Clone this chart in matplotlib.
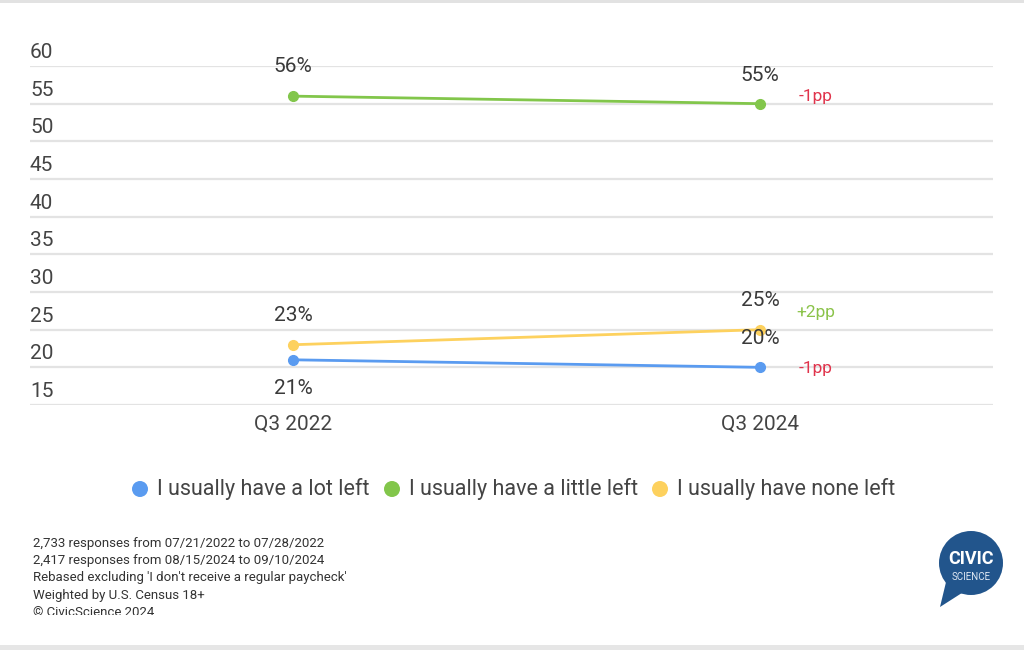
import matplotlib
matplotlib.use("Agg")
import matplotlib.pyplot as plt
from matplotlib.patches import Circle, Polygon, Rectangle
from matplotlib.transforms import Bbox, blended_transform_factory, offset_copy

plt.rcParams['font.family'] = ['Roboto', 'DejaVu Sans']

# ---- data ----
periods = ["Q3 2022", "Q3 2024"]
series_names = ["I usually have a lot left", "I usually have a little left", "I usually have none left"]
lot_left = [21, 20]
little_left = [56, 55]
none_left = [23, 25]
changes = ["-1pp", "-1pp", "+2pp"]
y_ticks = [15, 20, 25, 30, 35, 40, 45, 50, 55, 60]
notes = [
    "2,733 responses from 07/21/2022 to 07/28/2022",
    "2,417 responses from 08/15/2024 to 09/10/2024",
    "Rebased excluding 'I don't receive a regular paycheck'",
    "Weighted by U.S. Census 18+",
    "\u00a9 CivicScience 2024",
]

colors = ["#5a9bf0", "#82c64b", "#fdd15e"]
change_colors = ["#e0344c", "#e0344c", "#8bc34a"]
label_offsets = [(-29, 29), (30, 28), (29, 29)]  # px, + above
change_dy = [-1, 7, 17]  # px above the last point

W, H = 1024, 650
fig = plt.figure(figsize=(W / 100, H / 100), dpi=100)
ax = fig.add_axes([30 / W, 1 - 405 / H, (993 - 30) / W, (405 - 66) / H])

xs = list(range(len(periods)))
ax.set_xlim(-263 / 467, 1 + 233 / 467)
ax.set_ylim(min(y_ticks), max(y_ticks))

for v in y_ticks:
    ax.axhline(v, color="#e3e3e3", lw=1.6, zorder=0)

all_series = [lot_left, little_left, none_left]
for vals, c in zip(all_series, colors):
    ax.plot(xs, vals, color=c, lw=2, marker="o", ms=7, zorder=3)

# data labels
for vals, offs in zip(all_series, label_offsets):
    for x, v, off in zip(xs, vals, offs):
        ax.annotate(f"{v}%", (x, v), xytext=(0, off * 0.72), textcoords="offset points",
                    ha="center", va="center", fontsize=15, color="#3a3a3a")

# change annotations
for vals, ch, cc, dy in zip(all_series, changes, change_colors, change_dy):
    ax.annotate(ch, (xs[-1], vals[-1]), xytext=(56 * 0.72, dy * 0.72), textcoords="offset points",
                ha="center", va="center", fontsize=12.5, color=cc)

for s in ax.spines.values():
    s.set_visible(False)
ax.set_yticks([])
ax.set_xticks(xs)
ax.set_xticklabels(periods, fontsize=15, color="#444444")
ax.tick_params(axis="x", length=0, pad=7)

# y tick labels above grid lines
tr = blended_transform_factory(ax.transAxes, ax.transData)
for v in y_ticks:
    ax.text(0, v, str(v), transform=offset_copy(tr, fig=fig, x=0, y=4, units="dots"),
            ha="left", va="bottom", fontsize=15, color="#444444")

# legend (manual)
leg_y = 489
leg_items = [(140, 157), (392, 409), (660, 677)]
for (dx, tx), name, c in zip(leg_items, series_names, colors):
    fig.patches.append(Circle((dx, H - leg_y), 8, transform=None,
                              facecolor=c, edgecolor="none"))
    fig.text(tx / W, 1 - leg_y / H, name, ha="left", va="center", fontsize=15.5, color="#444444")

# footnotes
clip = Bbox.from_extents(0, H - 615, W, H)
for i, line in enumerate(notes):
    t = fig.text(33 / W, 1 - (543 + i * 17.5) / H, line, ha="left", va="center",
                 fontsize=9.5, color="#333333")
    t.set_clip_on(True)
    t.set_clip_box(clip)

# logo
cx, cy = 971, 563
fig.patches.append(Polygon([[947, H - 578], [940, H - 607], [965, H - 591]],
                           closed=True, transform=None, facecolor="#22558c", edgecolor="none"))
fig.patches.append(Circle((cx, H - cy), 32, transform=None,
                          facecolor="#22558c", edgecolor="none"))
fig.text(cx / W, 1 - 559 / H, "CIVIC", ha="center", va="center", fontsize=13,
         fontweight="bold", color="white")
fig.text(cx / W, 1 - 577 / H, "SCIENCE", ha="center", va="center", fontsize=7, color="#dfe8f3")

# frame bands
fig.patches.append(Rectangle((0, 1 - 3 / H), 1, 3 / H, transform=fig.transFigure,
                             facecolor="#e2e2e2", edgecolor="none"))
fig.patches.append(Rectangle((0, 0), 1, 5 / H, transform=fig.transFigure,
                             facecolor="#e6e6e6", edgecolor="none"))

fig.savefig("out.png", dpi=100)
